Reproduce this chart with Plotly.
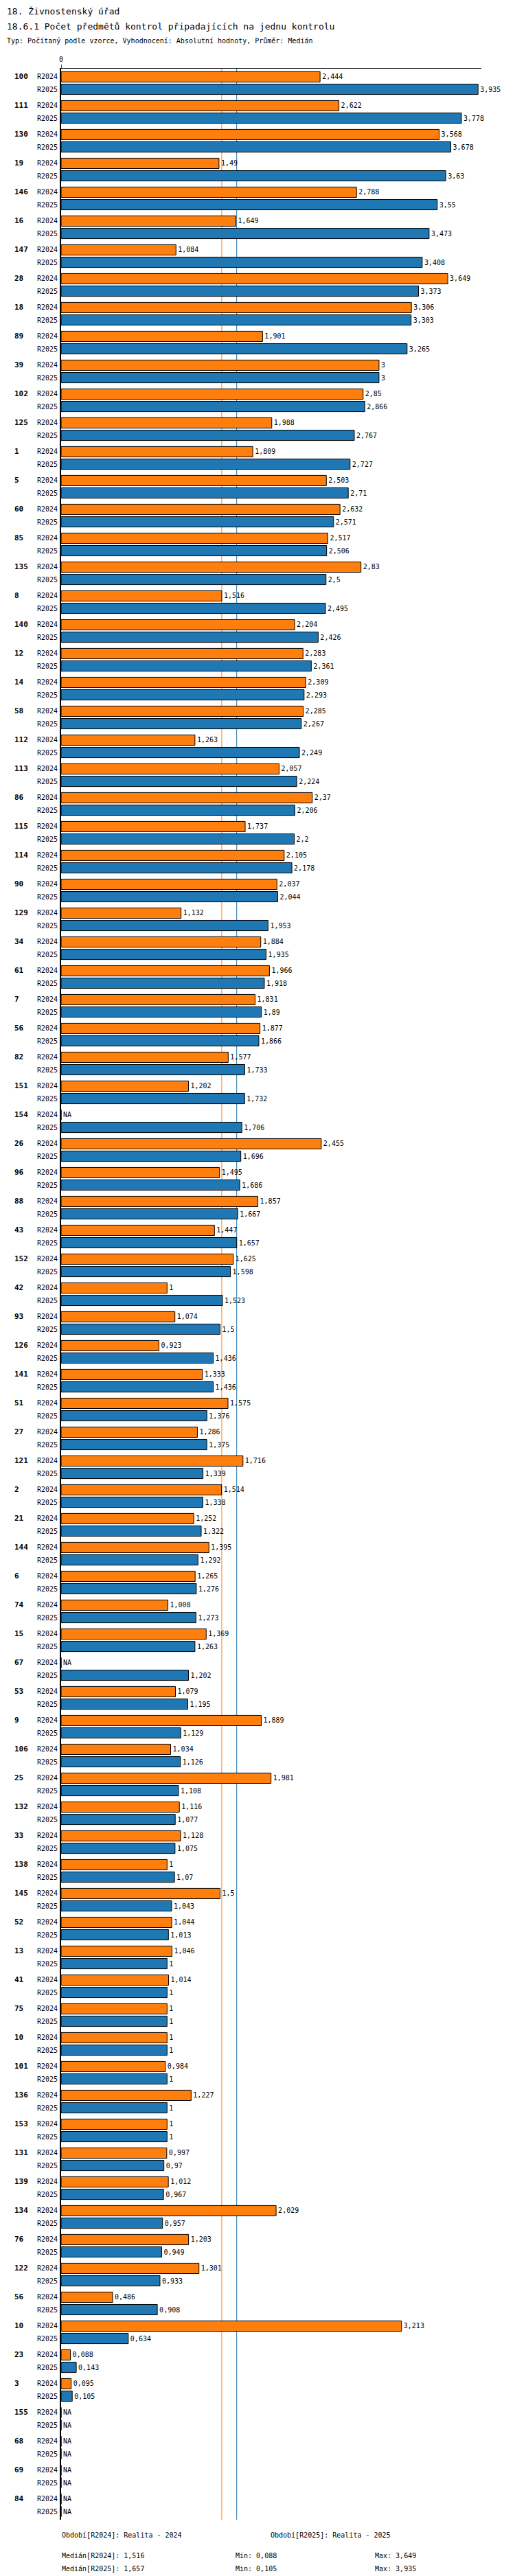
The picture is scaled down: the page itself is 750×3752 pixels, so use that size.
import plotly.graph_objects as go

# Skupiny (kody uradu) a hodnoty
groups = ["100", "111", "130", "19", "146", "16", "147", "28", "18", "89", "39", "102", "125", "1", "5",
          "60", "85", "135", "8", "140", "12", "14", "58", "112", "113", "86", "115", "114", "90", "129",
          "34", "61", "7", "56", "82", "151", "154", "26", "96", "88", "43", "152", "42", "93", "126",
          "141", "51", "27", "121", "2", "21", "144", "6", "74", "15", "67", "53", "9", "106", "25",
          "132", "33", "138", "145", "52", "13", "41", "75", "10", "101", "136", "153", "131", "139", "134",
          "76", "122", "56", "10", "23", "3", "155", "68", "69", "84"]
r2024 = [2.444, 2.622, 3.568, 1.49, 2.788, 1.649, 1.084, 3.649, 3.306, 1.901, 3, 2.85, 1.988, 1.809, 2.503,
         2.632, 2.517, 2.83, 1.516, 2.204, 2.283, 2.309, 2.285, 1.263, 2.057, 2.37, 1.737, 2.105, 2.037, 1.132,
         1.884, 1.966, 1.831, 1.877, 1.577, 1.202, None, 2.455, 1.495, 1.857, 1.447, 1.625, 1, 1.074, 0.923,
         1.333, 1.575, 1.286, 1.716, 1.514, 1.252, 1.395, 1.265, 1.008, 1.369, None, 1.079, 1.889, 1.034, 1.981,
         1.116, 1.128, 1, 1.5, 1.044, 1.046, 1.014, 1, 1, 0.984, 1.227, 1, 0.997, 1.012, 2.029,
         1.203, 1.301, 0.486, 3.213, 0.088, 0.095, None, None, None, None]
r2025 = [3.935, 3.778, 3.678, 3.63, 3.55, 3.473, 3.408, 3.373, 3.303, 3.265, 3, 2.866, 2.767, 2.727, 2.71,
         2.571, 2.506, 2.5, 2.495, 2.426, 2.361, 2.293, 2.267, 2.249, 2.224, 2.206, 2.2, 2.178, 2.044, 1.953,
         1.935, 1.918, 1.89, 1.866, 1.733, 1.732, 1.706, 1.696, 1.686, 1.667, 1.657, 1.598, 1.523, 1.5, 1.436,
         1.436, 1.376, 1.375, 1.339, 1.338, 1.322, 1.292, 1.276, 1.273, 1.263, 1.202, 1.195, 1.129, 1.126, 1.108,
         1.077, 1.075, 1.07, 1.043, 1.013, 1, 1, 1, 1, 1, 1, 1, 0.97, 0.967, 0.957,
         0.949, 0.933, 0.908, 0.634, 0.143, 0.105, None, None, None, None]
median_2024 = 1.516
median_2025 = 1.657

FONT = "DejaVu Sans Mono"
ORANGE = "#ff7f0e"
BLUE = "#1f77b4"


def fmt(v):
    if v is None:
        return "NA"
    return f"{v:g}".replace(".", ",")


idx = list(range(len(groups)))
fig = go.Figure()
for vals, off, color, name in [(r2024, -0.215, ORANGE, "R2024"), (r2025, 0.215, BLUE, "R2025")]:
    fig.add_trace(go.Bar(
        x=[v if v is not None else 0 for v in vals],
        y=[i + off for i in idx],
        orientation="h",
        width=0.36,
        marker=dict(color=color, line=dict(color="black", width=1)),
        text=[fmt(v) for v in vals],
        textposition="outside",
        textfont=dict(family=FONT, size=10, color="black"),
        cliponaxis=False,
        name=name,
        hoverinfo="x+y",
    ))

annotations = []
for i, g in enumerate(groups):
    annotations.append(dict(x=-0.115, xref="paper", y=i - 0.215, yref="y", text=f"<b>{g}</b>",
                            showarrow=False, xanchor="left", font=dict(family=FONT, size=11, color="black")))
    for off, lab in [(-0.215, "R2024"), (0.215, "R2025")]:
        annotations.append(dict(x=0, xref="paper", y=i + off, yref="y", text=lab, xshift=-3,
                                showarrow=False, xanchor="right", font=dict(family=FONT, size=10, color="black")))

# Nadpisy
def ptext(x, y, text, size, xanchor="left"):
    annotations.append(dict(x=x / 750, xref="paper", y=1 - (y - 92) / 3570, yref="paper", text=text,
                            showarrow=False, xanchor=xanchor, yanchor="middle",
                            font=dict(family=FONT, size=size, color="black")))

# souradnice v pixelech prepocitane na paper
def px(x, y, text, size):
    annotations.append(dict(x=(x - 81) / 612, xref="paper", y=(3662 - y) / 3570, yref="paper", text=text,
                            showarrow=False, xanchor="left", yanchor="middle",
                            font=dict(family=FONT, size=size, color="black")))

px(0, 8, "18. Živnostenský úřad", 13)
px(0, 30, "18.6.1 Počet předmětů kontrol připadajících na jednu kontrolu", 13)
px(0, 51, "Typ: Počítaný podle vzorce, Vyhodnocení: Absolutní hodnoty, Průměr: Medián", 10)
px(80, 3684, "Období[R2024]: Realita - 2024", 10)
px(384, 3684, "Období[R2025]: Realita - 2025", 10)
px(80, 3714, f"Medián[R2024]: {fmt(median_2024)}", 10)
px(80, 3734, f"Medián[R2025]: {fmt(median_2025)}", 10)
px(333, 3714, "Min: 0,088", 10)
px(333, 3734, "Min: 0,105", 10)
px(536, 3714, "Max: 3,649", 10)
px(536, 3734, "Max: 3,935", 10)

shapes = [
    dict(type="line", x0=median_2024, x1=median_2024, y0=0, y1=1, xref="x", yref="paper",
         line=dict(color=ORANGE, width=1), layer="below"),
    dict(type="line", x0=median_2025, x1=median_2025, y0=0, y1=1, xref="x", yref="paper",
         line=dict(color=BLUE, width=1), layer="below"),
]

fig.update_layout(
    width=750, height=3752,
    margin=dict(l=81, r=57, t=92, b=90),
    plot_bgcolor="white", paper_bgcolor="white",
    showlegend=False, barmode="overlay",
    annotations=annotations, shapes=shapes,
    xaxis=dict(range=[0, 3.966], side="top", tickvals=[0], ticktext=["0"], ticks="outside", ticklen=5,
               showgrid=False, zeroline=False, showline=True, linecolor="black", linewidth=1,
               tickfont=dict(family=FONT, size=10, color="black")),
    yaxis=dict(range=[len(groups) - 0.5, -0.5], showticklabels=False, showgrid=False, zeroline=False,
               showline=True, linecolor="black", linewidth=2),
)

fig.write_html("out.html")
